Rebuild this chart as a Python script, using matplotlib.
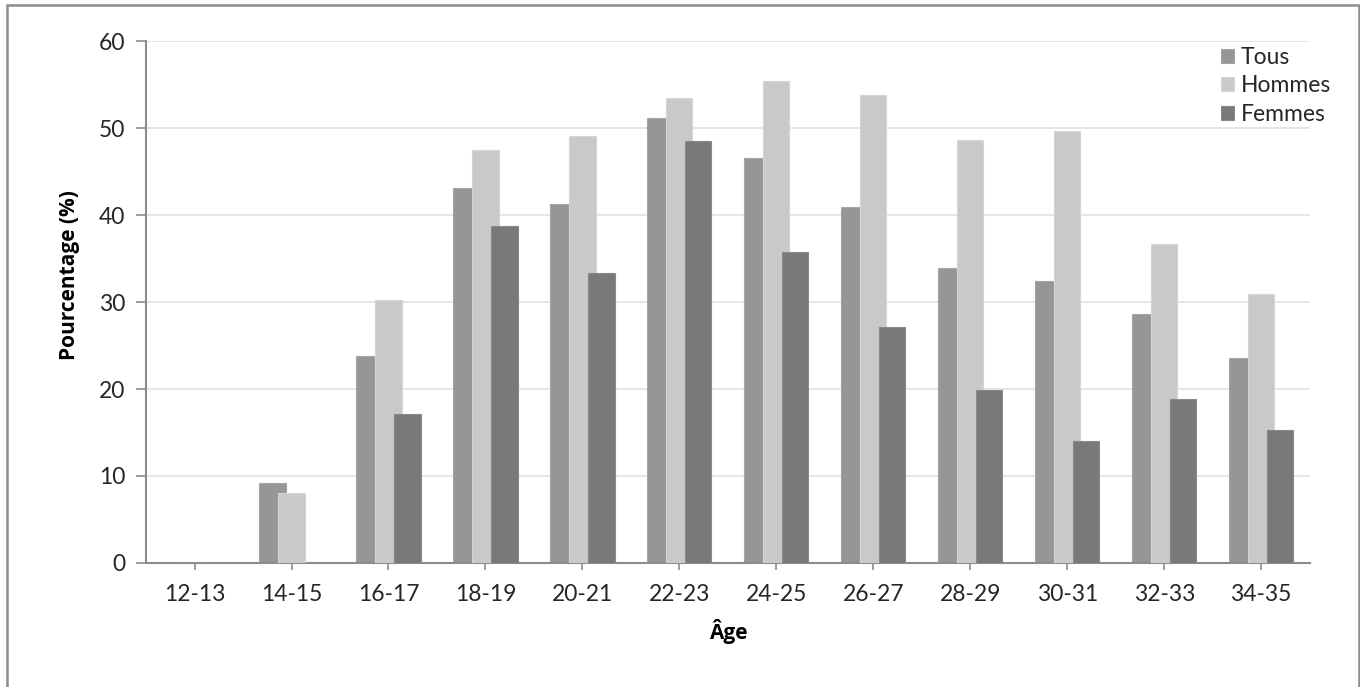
import numpy as np
import matplotlib.pyplot as plt
from matplotlib.patches import Rectangle

# donnees
ages = ['12-13', '14-15', '16-17', '18-19', '20-21', '22-23',
        '24-25', '26-27', '28-29', '30-31', '32-33', '34-35']
tous = [0, 9.2, 23.8, 43.1, 41.3, 51.1, 46.6, 40.9, 33.9, 32.4, 28.6, 23.6]
hommes = [0, 8.0, 30.2, 47.5, 49.1, 53.5, 55.4, 53.8, 48.6, 49.6, 36.7, 30.9]
femmes = [0, 0, 17.1, 38.7, 33.3, 48.5, 35.8, 27.1, 19.9, 14.0, 18.8, 15.3]

couleurs = {'Tous': '#969696', 'Hommes': '#c9c9c9', 'Femmes': '#797979'}
bords = {'Tous': '#a6a6a6', 'Hommes': '#d6d6d6', 'Femmes': '#8a8a8a'}

plt.rcParams['font.family'] = ['Lato', 'DejaVu Sans']

fig = plt.figure(figsize=(13.6, 6.87), dpi=100)
ax = fig.add_axes([0.1074, 0.1805, 0.8556, 0.7598])

x = np.arange(len(ages))
pas = 0.196
largeur = 0.27
series = [('Tous', tous), ('Hommes', hommes), ('Femmes', femmes)]
for i, (nom, vals) in enumerate(series):
    ax.bar(x + (i - 1) * pas, vals, largeur, color=couleurs[nom],
           edgecolor=bords[nom], linewidth=0.8, label=nom, zorder=2 + i)

ax.set_xlim(-0.5, len(ages) - 0.5)
ax.set_ylim(0, 60)
ax.set_yticks(range(0, 61, 10))
ax.set_xticks(x)
ax.set_xticklabels(ages)
ax.grid(axis='y', color='#e2e2e2', linewidth=1.2, zorder=0)
ax.set_axisbelow(True)

for s in ['top', 'right']:
    ax.spines[s].set_visible(False)
for s in ['left', 'bottom']:
    ax.spines[s].set_color('#8c8c8c')
    ax.spines[s].set_linewidth(1.5)

ax.tick_params(axis='y', direction='out', length=7, width=1.2, color='#8c8c8c',
               labelsize=16.5, labelcolor='#262626', pad=8)
ax.tick_params(axis='x', direction='out', length=5, width=1.2, color='#8c8c8c',
               labelsize=16.5, labelcolor='#262626', pad=10)

ax.set_ylabel('Pourcentage (%)', fontsize=15, fontweight='bold',
              family=['Open Sans', 'DejaVu Sans'])
ax.yaxis.set_label_coords(-0.057, 0.552)
ax.set_xlabel('Âge', fontsize=15, fontweight='bold', labelpad=10,
              family=['Open Sans', 'DejaVu Sans'])

leg = ax.legend(loc='upper right', bbox_to_anchor=(1.03, 1.015), frameon=False,
                fontsize=16.5, handlelength=0.55, handleheight=0.55,
                handletextpad=0.3, labelspacing=0.33, borderaxespad=0.2)
for t in leg.get_texts():
    t.set_color('#262626')

# cadre du graphique (bas hors image)
fig.patches.append(Rectangle((0.0051, -0.01), 0.9942, 1.0027, transform=fig.transFigure,
                             fill=False, edgecolor='#8c8c8c', linewidth=1.8))

fig.savefig('out.png', dpi=100)
